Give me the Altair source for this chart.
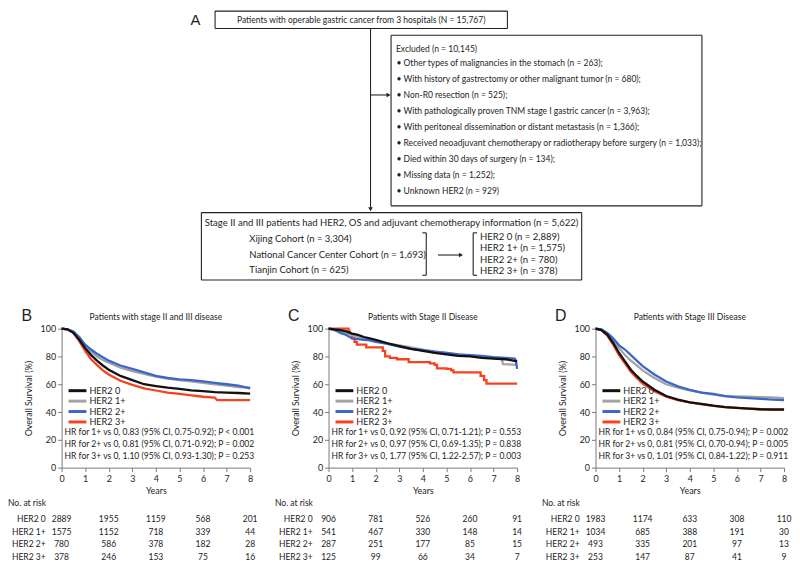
import altair as alt
import pandas as pd

FONT = "Lato"
LETTER_FONT = "Liberation Sans"
TXT = "#1e1e1e"
AX = "#7a7a7a"
FS = 8.6
FS_BOX = 9.6

# ---------------------------------------------------------------- data
GROUPS = ["HER2 0", "HER2 1+", "HER2 2+", "HER2 3+"]
COLORS = ["#111111", "#a3a3a3", "#3e66c8", "#f7421f"]
RISK_TIMES = [0, 2, 4, 6, 8]

T_GRID = [0, 0.25, 0.5, 0.75, 1, 1.25, 1.5, 1.75, 2, 2.5, 3, 3.5, 4, 4.5, 5, 5.5, 6, 6.5, 7, 7.5, 8]

# Panel B: stage II and III
B_S0 = [100, 99.5, 97, 92, 86, 81, 77, 73.5, 70.5, 66, 63, 60, 58.7, 57.5, 56.6, 55.6, 55, 54.4, 54, 53.7, 53.3]
B_S1 = [100, 99.5, 97.5, 93, 87.5, 83.5, 80, 77.5, 75.5, 72, 69.5, 67.5, 65.5, 64, 63, 62, 61, 60, 59, 58, 57.5]
B_S2 = [100, 99.5, 98, 94, 88.5, 85, 82, 79.5, 77, 73.5, 71, 68.5, 66, 64.5, 63.5, 63, 62, 61, 60, 59, 57]
B_T3 = [0, 0.25, 0.5, 0.75, 1, 1.25, 1.5, 1.75, 2, 2.5, 3, 3.5, 4, 4.5, 5, 5.5, 6, 6.5, 6.6, 7, 7.5, 8]
B_S3 = [100, 99.5, 97, 91, 84, 78, 74, 70, 67, 62.5, 59.5, 57, 55.5, 54, 53, 52, 51, 50.3, 48.5, 48.5, 48.5, 48.5]

# Panel C: stage II
C_S0 = [100, 99.5, 99, 98, 96.5, 95.5, 94, 93, 92, 89.5, 87.5, 85.5, 84, 82.5, 81.5, 80.5, 80, 79, 78.5, 78, 76.5]
C_T1 = [0, 0.25, 0.5, 0.75, 1, 1.25, 1.5, 1.75, 2, 2.5, 3, 3.5, 4, 4.5, 5, 5.5, 6, 6.5, 7, 7.35, 7.4, 8]
C_S1 = [100, 99.5, 98.5, 97, 95.5, 94, 93, 92.5, 91.5, 89.5, 88, 86.5, 85, 83.5, 82.5, 81.5, 80.5, 80, 79, 78.3, 74.5, 74]
C_T2 = [0, 0.25, 0.5, 0.75, 1, 1.25, 1.5, 1.75, 2, 2.5, 3, 3.5, 4, 4.5, 5, 5.5, 6, 6.5, 7, 7.5, 7.9, 7.95, 8]
C_S2 = [100, 99, 97, 95.5, 93, 92.5, 92, 91.5, 90.5, 89, 87, 85.5, 84.5, 83.5, 82.5, 81.5, 81, 80.5, 79.5, 79, 78.5, 77, 71]
C_T3 = [0, 0.85, 0.9, 1.0, 1.1, 1.2, 1.6, 2.3, 2.4, 2.6, 2.9, 3.4, 4.3, 4.5, 4.6, 5.0, 5.2, 5.3, 6.45, 6.6, 6.7, 8]
C_S3 = [100, 98, 96, 93, 90.5, 88.5, 86.5, 84, 80, 79, 78, 76, 75, 74, 71.5, 71, 70, 68.5, 66, 63, 60.5, 60.5]

# Panel D: stage III
D_S0 = [100, 99, 95.7, 89.7, 82.5, 76.5, 70.5, 66, 62, 56, 51.5, 49, 47, 45.8, 44.6, 43.6, 43, 42.5, 42, 41.8, 41.7]
D_S1 = [100, 99.5, 96, 91, 86, 81, 77, 73.5, 70, 64.5, 60, 57.5, 55.5, 54, 52.5, 51.5, 51.2, 51, 50.8, 50.5, 50]
D_S2 = [100, 99.5, 97, 93, 88, 85, 81, 77, 73, 67, 62, 58.5, 56, 54, 53, 51.5, 50.5, 50, 49.5, 49, 48.5]
D_S3 = [100, 99, 95, 88.5, 81, 75, 69, 64.5, 60.5, 55, 51, 48.5, 47, 45.5, 44.5, 43.5, 43, 42.5, 42, 42, 42]

B_RISK = {"HER2 0": [2889, 1955, 1159, 568, 201], "HER2 1+": [1575, 1152, 718, 339, 44],
          "HER2 2+": [780, 586, 378, 182, 28], "HER2 3+": [378, 246, 153, 75, 16]}
C_RISK = {"HER2 0": [906, 781, 526, 260, 91], "HER2 1+": [541, 467, 330, 148, 14],
          "HER2 2+": [287, 251, 177, 85, 15], "HER2 3+": [125, 99, 66, 34, 7]}
D_RISK = {"HER2 0": [1983, 1174, 633, 308, 110], "HER2 1+": [1034, 685, 388, 191, 30],
          "HER2 2+": [493, 335, 201, 97, 13], "HER2 3+": [253, 147, 87, 41, 9]}

B_HR = ["HR for 1+ vs 0, 0.83 (95% CI, 0.75-0.92); P < 0.001",
        "HR for 2+ vs 0, 0.81 (95% CI, 0.71-0.92); P = 0.002",
        "HR for 3+ vs 0, 1.10 (95% CI, 0.93-1.30); P = 0.253"]
C_HR = ["HR for 1+ vs 0, 0.92 (95% CI, 0.71-1.21); P = 0.553",
        "HR for 2+ vs 0, 0.97 (95% CI, 0.69-1.35); P = 0.838",
        "HR for 3+ vs 0, 1.77 (95% CI, 1.22-2.57); P = 0.003"]
D_HR = ["HR for 1+ vs 0, 0.84 (95% CI, 0.75-0.94); P = 0.002",
        "HR for 2+ vs 0, 0.81 (95% CI, 0.70-0.94); P = 0.005",
        "HR for 3+ vs 0, 1.01 (95% CI, 0.84-1.22); P = 0.911"]

# flowchart texts
FLOW_TOP = "Patients with operable gastric cancer from 3 hospitals (N = 15,767)"
FLOW_EXCL_HEAD = "Excluded (n = 10,145)"
FLOW_EXCL_ITEMS = [
    "Other types of malignancies in the stomach (n = 263);",
    "With history of gastrectomy or other malignant tumor (n = 680);",
    "Non-R0 resection (n = 525);",
    "With pathologically proven TNM stage I gastric cancer (n = 3,963);",
    "With peritoneal dissemination or distant metastasis (n = 1,366);",
    "Received neoadjuvant chemotherapy or radiotherapy before surgery (n = 1,033);",
    "Died within 30 days of surgery (n = 134);",
    "Missing data (n = 1,252);",
    "Unknown HER2 (n = 929)",
]
FLOW_FINAL = "Stage II and III patients had HER2, OS and adjuvant chemotherapy information (n = 5,622)"
FLOW_COHORTS = ["Xijing Cohort (n = 3,304)", "National Cancer Center Cohort (n = 1,693)",
                "Tianjin Cohort (n = 625)"]
FLOW_HER2 = ["HER2 0 (n = 2,889)", "HER2 1+ (n = 1,575)", "HER2 2+ (n = 780)", "HER2 3+ (n = 378)"]

# ---------------------------------------------------------------- flowchart layout
FW, FH = 728, 272
FX = alt.Scale(domain=[55, 794], range=[0, FW])
FY = alt.Scale(domain=[3, 283], range=[0, FH])

BOXES = [(212, 511, 3, 21), (392, 710, 28, 205), (198, 587, 212, 282)]
seg = []
for (x1, x2, y1, y2) in BOXES:
    seg += [(x1, x2, y1, y1), (x1, x2, y2, y2), (x1, x1, y1, y2), (x2, x2, y1, y2)]
seg += [
    (371, 371, 21, 207),      # main down arrow
    (371, 388, 90, 90),       # arrow to excluded box
    (440, 462, 256, 256),     # cohort -> HER2 arrow
    (428, 428, 233, 277), (424, 428, 233, 233), (424, 428, 277, 277),   # right bracket
    (476, 476, 233, 277), (476, 480, 233, 233), (476, 480, 277, 277),   # left bracket
]
segs = pd.DataFrame(seg, columns=["x", "x2", "y", "y2"])
heads_down = pd.DataFrame({"x": [371], "y": [208.5]})
heads_right = pd.DataFrame({"x": [389.5, 463.5], "y": [90, 256]})

small_rows = [(397, 42.5, FLOW_EXCL_HEAD)]
for i, s in enumerate(FLOW_EXCL_ITEMS):
    small_rows.append((397.5, 57 + 16.6 * i, "\u2022  " + s))
small_df = pd.DataFrame(small_rows, columns=["x", "y", "txt"])

box_rows = []
for i, s in enumerate(FLOW_COHORTS):
    box_rows.append((247, [239.5, 256, 272][i], s))
for i, s in enumerate(FLOW_HER2):
    box_rows.append((483, 237 + 12 * i, s))
box_df = pd.DataFrame(box_rows, columns=["x", "y", "txt"])


def fx(f):
    return alt.X(f, scale=FX, axis=None)


def fy(f):
    return alt.Y(f, scale=FY, axis=None)


def ftext(df, align, size, font=FONT):
    return alt.Chart(df).mark_text(align=align, baseline="middle", fontSize=size,
                                   font=font, color=TXT).encode(
        x=fx("x:Q"), y=fy("y:Q"), text="txt:N")


flow = alt.layer(
    alt.Chart(segs).mark_rule(color="#222", strokeWidth=1.1).encode(
        x=fx("x:Q"), x2="x2:Q", y=fy("y:Q"), y2="y2:Q"),
    alt.Chart(heads_down).mark_point(shape="triangle-down", filled=True, color="#222", size=22, opacity=1).encode(
        x=fx("x:Q"), y=fy("y:Q")),
    alt.Chart(heads_right).mark_point(shape="triangle-right", filled=True, color="#222", size=22, opacity=1).encode(
        x=fx("x:Q"), y=fy("y:Q")),
    ftext(small_df, "left", FS),
    ftext(pd.DataFrame({"x": [361.5], "y": [12.5], "txt": [FLOW_TOP]}), "center", FS),
    ftext(box_df, "left", FS_BOX),
    ftext(pd.DataFrame({"x": [392.5], "y": [222.5], "txt": [FLOW_FINAL]}), "center", FS_BOX),
    ftext(pd.DataFrame({"x": [192], "y": [12], "txt": ["A"]}), "center", 15, LETTER_FONT),
).properties(width=FW, height=FH)

# ---------------------------------------------------------------- KM panels
PW, PH = 190, 140


def km_panel(letter, title, series, hr_lines, risk):
    xs = alt.Scale(domain=[0, 8], nice=False, zero=False)
    xaxis = alt.Axis(values=list(range(9)), format="d", title="Years", grid=False,
                     labelFontSize=9, labelColor=TXT, labelFont=FONT, labelFlush=False,
                     labelPadding=3, tickSize=4, tickColor=AX, domainColor=AX,
                     titleFontSize=9, titleFont=FONT, titleFontWeight="normal",
                     titleColor=TXT, titlePadding=3)
    yaxis = alt.Axis(values=[0, 20, 40, 60, 80, 100], title="Overall Survival (%)", grid=False,
                     labelFontSize=9, labelColor=TXT, labelFont=FONT, labelPadding=2,
                     tickSize=4, tickColor=AX, domainColor=AX, titleFontSize=9, titleFont=FONT,
                     titleFontWeight="normal", titleColor=TXT, titlePadding=7)
    color = alt.Color("grp:N", scale=alt.Scale(domain=GROUPS, range=COLORS), legend=None)
    X = alt.X("t:Q", scale=xs, axis=xaxis)

    layers = []
    first = True
    for g in ["HER2 3+", "HER2 1+", "HER2 2+", "HER2 0"]:
        t, s, interp = series[g]
        df = pd.DataFrame({"t": t, "s": s, "grp": g})
        layers.append(alt.Chart(df).mark_line(strokeWidth=2.3, interpolate=interp).encode(
            x=X,
            y=alt.Y("s:Q", scale=alt.Scale(domain=[0, 100], nice=False), axis=yaxis if first else None),
            color=color))
        first = False

    # in-plot legend
    leg = pd.DataFrame({"grp": GROUPS, "row": [0, 1, 2, 3]})
    ly = alt.Y("row:Q", scale=alt.Scale(domain=[0, 3], range=[62.5, 94]), axis=None)
    layers.append(alt.Chart(leg).mark_rule(strokeWidth=3).encode(
        x=alt.value(7), x2=alt.value(25), y=ly, color=color))
    layers.append(alt.Chart(leg).mark_text(align="left", baseline="middle", fontSize=9.2,
                                           font=FONT, color=TXT).encode(
        x=alt.value(28), y=ly, text="grp:N"))

    # hazard ratios
    hr = pd.DataFrame({"row": [0, 1, 2], "txt": hr_lines})
    layers.append(alt.Chart(hr).mark_text(align="left", baseline="middle", fontSize=FS,
                                          font=FONT, color=TXT).encode(
        x=alt.value(3),
        y=alt.Y("row:Q", scale=alt.Scale(domain=[0, 2], range=[104, 128]), axis=None),
        text="txt:N"))

    # risk table
    rows = []
    for gi, g in enumerate(GROUPS):
        for tt, n in zip(RISK_TIMES, risk[g]):
            rows.append({"t": tt, "row": gi, "n": str(n), "grp": g})
    rt = pd.DataFrame(rows)
    ry = alt.Y("row:Q", scale=alt.Scale(domain=[0, 3], range=[192, 230]), axis=None)
    layers.append(alt.Chart(rt).mark_text(align="center", baseline="middle", fontSize=FS,
                                          font=FONT, color=TXT).encode(
        x=X, y=ry, text="n:N"))
    labs = pd.DataFrame({"row": [0, 1, 2, 3], "txt": GROUPS})
    layers.append(alt.Chart(labs).mark_text(align="right", baseline="middle", fontSize=FS,
                                            font=FONT, color=TXT).encode(
        x=alt.value(-16), y=ry, text="txt:N"))
    layers.append(alt.Chart(pd.DataFrame({"txt": ["No. at risk"]})).mark_text(
        align="left", baseline="middle", fontSize=FS, font=FONT, color=TXT).encode(
        x=alt.value(-54), y=alt.value(176), text="txt:N"))

    # panel title and letter
    layers.append(alt.Chart(pd.DataFrame({"txt": [title]})).mark_text(
        align="center", baseline="middle", fontSize=FS, font=FONT, color=TXT).encode(
        x=alt.value(PW / 2), y=alt.value(-12), text="txt:N"))
    layers.append(alt.Chart(pd.DataFrame({"txt": [letter]})).mark_text(
        align="center", baseline="middle", fontSize=16, font=LETTER_FONT, color=TXT).encode(
        x=alt.value(-35), y=alt.value(-13), text="txt:N"))

    return alt.layer(*layers).resolve_scale(y="independent").properties(width=PW, height=PH)


panel_b = km_panel("B", "Patients with stage II and III disease", {
    "HER2 0": (T_GRID, B_S0, "linear"), "HER2 1+": (T_GRID, B_S1, "linear"),
    "HER2 2+": (T_GRID, B_S2, "linear"), "HER2 3+": (B_T3, B_S3, "linear")}, B_HR, B_RISK)
panel_c = km_panel("C", "Patients with Stage II Disease", {
    "HER2 0": (T_GRID, C_S0, "linear"), "HER2 1+": (C_T1, C_S1, "linear"),
    "HER2 2+": (C_T2, C_S2, "linear"), "HER2 3+": (C_T3, C_S3, "step-after")}, C_HR, C_RISK)
panel_d = km_panel("D", "Patients with Stage III Disease", {
    "HER2 0": (T_GRID, D_S0, "linear"), "HER2 1+": (T_GRID, D_S1, "linear"),
    "HER2 2+": (T_GRID, D_S2, "linear"), "HER2 3+": (T_GRID, D_S3, "linear")}, D_HR, D_RISK)

panels = alt.hconcat(panel_b, panel_c, panel_d, spacing=79, bounds="flush")

chart = (
    alt.vconcat(flow, panels, spacing=48, bounds="flush", padding=0)
    .configure(font=FONT, background="white")
    .configure_view(stroke=None, strokeWidth=0)
)

chart.save("out.html", embed_options={"renderer": "svg", "actions": False})
